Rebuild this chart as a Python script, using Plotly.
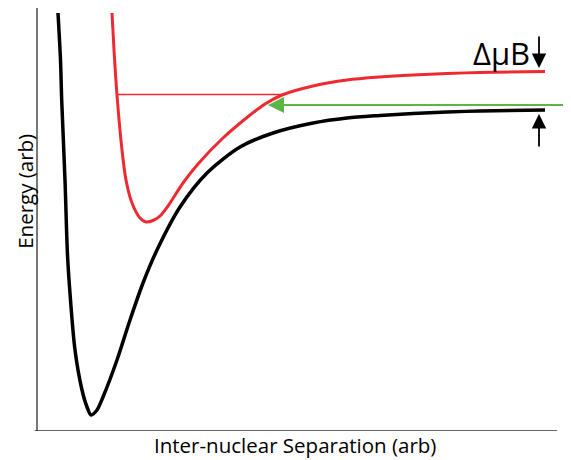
import plotly.graph_objects as go

# curves (arb units, origin at the axes corner)
black_x = [20, 22.5, 23.7, 27, 29.5, 32.5, 37, 44, 49, 53, 59, 65, 79, 92, 105, 119, 142, 169, 202, 235, 275, 309, 342, 375, 409, 442, 507]
black_y = [418, 371, 331, 251, 176, 131, 81, 41, 24, 16, 21, 34, 71, 111, 148, 181, 224, 258, 284, 298, 308, 313, 315.5, 317.5, 319, 320, 321]

red_x = [74, 76, 79, 84, 88, 94, 102, 108, 115, 122, 130, 145, 160, 185, 209, 227, 244, 275, 309, 342, 375, 409, 442, 507]
red_y = [418, 381, 336, 281, 251, 228, 213, 209, 210.5, 215, 225, 248, 267, 293, 313.5, 327, 336, 345, 351, 354, 356, 357.5, 358.5, 359.5]

# thin red level line and green incoming level
level_red_x = [79, 244]
level_red_y = [336.5, 336.5]
green_y = 326
green_x = [230, 533]

# ΔμB markers
dmb_arrow_x = 501
dmb_text = "ΔμB"

fig = go.Figure()
fig.add_trace(go.Scatter(x=black_x, y=black_y, mode="lines",
                         line=dict(color="black", width=3.5, shape="spline", smoothing=0.8),
                         hoverinfo="skip"))
fig.add_trace(go.Scatter(x=red_x, y=red_y, mode="lines",
                         line=dict(color="#ee2a30", width=3, shape="spline", smoothing=0.8),
                         hoverinfo="skip"))
fig.add_trace(go.Scatter(x=level_red_x, y=level_red_y, mode="lines",
                         line=dict(color="#ee2a30", width=1.5), hoverinfo="skip"))

# green arrow
fig.add_annotation(x=green_x[0], y=green_y, ax=green_x[1], ay=green_y,
                   xref="x", yref="y", axref="x", ayref="y", text="",
                   showarrow=True, arrowhead=2, arrowsize=1.6, arrowwidth=2,
                   arrowcolor="#5cb545")
# black ΔμB arrows
fig.add_annotation(x=dmb_arrow_x, y=363, ax=dmb_arrow_x, ay=396,
                   xref="x", yref="y", axref="x", ayref="y", text="",
                   showarrow=True, arrowhead=2, arrowsize=1.6, arrowwidth=1.8,
                   arrowcolor="black")
fig.add_annotation(x=dmb_arrow_x, y=317, ax=dmb_arrow_x, ay=283,
                   xref="x", yref="y", axref="x", ayref="y", text="",
                   showarrow=True, arrowhead=2, arrowsize=1.6, arrowwidth=1.8,
                   arrowcolor="black")
fig.add_annotation(x=463, y=378, xref="x", yref="y", text=dmb_text, showarrow=False,
                   font=dict(family="Open Sans", size=31, color="black"))

# axis titles
fig.add_annotation(x=0.482, y=-0.034, xref="paper", yref="paper", yanchor="middle",
                   text="Inter-nuclear Separation (arb)",
                   showarrow=False, font=dict(family="Open Sans", size=20.5, color="black"))
fig.add_annotation(x=-0.025, y=0.567, xref="paper", yref="paper", xanchor="center",
                   text="Energy (arb)", textangle=-90,
                   showarrow=False, font=dict(family="Open Sans", size=20.5, color="black"))

# bottom axis line
fig.add_shape(type="line", xref="paper", yref="y", x0=-0.006, x1=0.974, y0=0, y1=0,
              line=dict(color="#333333", width=1.5))

fig.update_xaxes(range=[0, 533], visible=False)
fig.update_yaxes(range=[0, 423], showgrid=False, zeroline=False, showticklabels=False,
                 ticks="", showline=True, linecolor="#777777", linewidth=1.5)
# page body adds 8px, so the figure is 8px smaller and margins shifted
fig.update_layout(width=563, height=452, margin=dict(l=30, r=0, t=0, b=29),
                  plot_bgcolor="white", paper_bgcolor="white", showlegend=False)

fig.write_html("out.html")
